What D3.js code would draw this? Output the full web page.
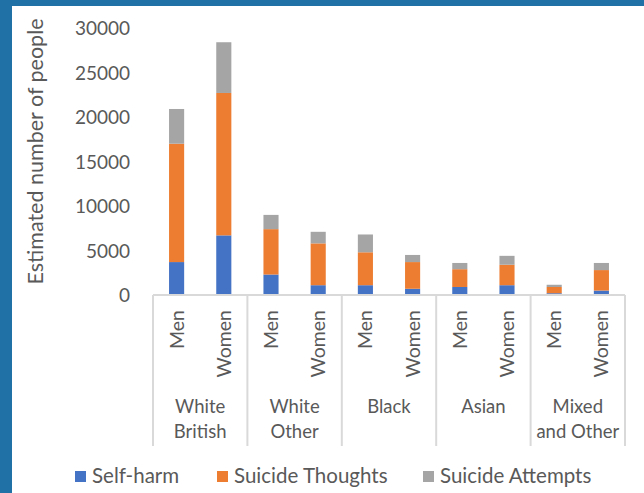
<!DOCTYPE html>
<html>
<head>
<meta charset="utf-8">
<script src="https://cdn.jsdelivr.net/npm/d3@7"></script>
<style>
  html, body { margin: 0; padding: 0; background: #fff; }
  svg { display: block; }
  text { font-family: Lato, "Open Sans", sans-serif; fill: #595959; }
</style>
</head>
<body>
<svg id="chart" width="644" height="493"></svg>
<script>
// ---- data ----
const groups = [["White", "British"], ["White", "Other"], ["Black"], ["Asian"], ["Mixed", "and Other"]];
const genders = ["Men", "Women"];
const selfHarm        = [3700, 6700, 2300, 1100, 1100, 700, 900, 1100, 200, 500];
const suicideThoughts = [13300, 16000, 5100, 4700, 3700, 3000, 2000, 2300, 700, 2300];
const suicideAttempts = [3900, 5700, 1600, 1300, 2000, 800, 700, 1000, 250, 800];
const seriesNames = ["Self-harm", "Suicide Thoughts", "Suicide Attempts"];
const yTicks = [0, 5000, 10000, 15000, 20000, 25000, 30000];

const colors = ["#4472c4", "#ed7d31", "#a5a5a5"];

const svg = d3.select("#chart");

// frame
svg.append("rect").attr("x", 0).attr("y", 0).attr("width", 644).attr("height", 6).attr("fill", "#2071a6");
svg.append("rect").attr("x", 0).attr("y", 0).attr("width", 12).attr("height", 493).attr("fill", "#2071a6");

const x0 = 153, x1 = 625, yBase = 295, yTop = 28;

const rows = [];
groups.forEach((g, gi) => genders.forEach((s, si) => rows.push({
  key: gi + "-" + si, group: gi, gender: s,
  "Self-harm": selfHarm[gi * 2 + si],
  "Suicide Thoughts": suicideThoughts[gi * 2 + si],
  "Suicide Attempts": suicideAttempts[gi * 2 + si]
})));

const x = d3.scaleBand().domain(rows.map(d => d.key)).range([x0, x1]).paddingInner(0.68).paddingOuter(0.34);
const y = d3.scaleLinear().domain([0, 30000]).range([yBase, yTop]);

const stack = d3.stack().keys(seriesNames)(rows);

// bars
svg.append("g").selectAll("g").data(stack).join("g")
  .attr("fill", (d, i) => colors[i])
  .selectAll("rect").data(d => d).join("rect")
  .attr("x", d => x(d.data.key))
  .attr("width", x.bandwidth())
  .attr("y", d => y(d[1]))
  .attr("height", d => y(d[0]) - y(d[1]));

// y axis (labels only)
const yAxis = d3.axisLeft(y).tickValues(yTicks).tickSize(0).tickPadding(0).tickFormat(d3.format("d"));
const yg = svg.append("g").attr("transform", "translate(130,0)").call(yAxis);
yg.select(".domain").remove();
yg.selectAll("text").style("font-size", "19px").attr("fill", "#595959").attr("dy", "0.35em");

// y title
svg.append("text")
  .attr("transform", `translate(43,${(18 + 285) / 2}) rotate(-90)`)
  .attr("text-anchor", "middle")
  .style("font-size", "21.5px")
  .text("Estimated number of people");

// category axis line
svg.append("line").attr("x1", x0).attr("x2", x1).attr("y1", yBase).attr("y2", yBase)
  .attr("stroke", "#d9d9d9").attr("stroke-width", 2);

// group separators
const step = x.step();
const sepX = d3.range(groups.length + 1).map(i => x0 + i * step * 2);
svg.append("g").selectAll("line").data(sepX).join("line")
  .attr("x1", d => d).attr("x2", d => d).attr("y1", yBase).attr("y2", 446)
  .attr("stroke", "#d9d9d9").attr("stroke-width", 2);

// gender labels
svg.append("g").selectAll("text").data(rows).join("text")
  .attr("transform", d => `translate(${x(d.key) + x.bandwidth() / 2 + 7},310) rotate(-90)`)
  .attr("text-anchor", "end")
  .style("font-size", "19.5px")
  .text(d => d.gender);

// group labels
const gl = svg.append("g").selectAll("text").data(groups).join("text")
  .attr("text-anchor", "middle")
  .style("font-size", "18.5px")
  .attr("x", (d, i) => x0 + (i + 0.5) * step * 2)
  .attr("y", 413);
gl.selectAll("tspan").data(d => d).join("tspan")
  .attr("x", function () { return d3.select(this.parentNode).attr("x"); })
  .attr("dy", (d, i) => i === 0 ? 0 : 25)
  .text(d => d);

// legend
const legX = [75, 217, 423];
const leg = svg.append("g").selectAll("g").data(seriesNames).join("g")
  .attr("transform", (d, i) => `translate(${legX[i]},471)`);
leg.append("rect").attr("width", 11).attr("height", 11).attr("fill", (d, i) => colors[i]);
leg.append("text").attr("x", 17).attr("y", 12).style("font-size", "20.5px").text(d => d);
</script>
</body>
</html>
